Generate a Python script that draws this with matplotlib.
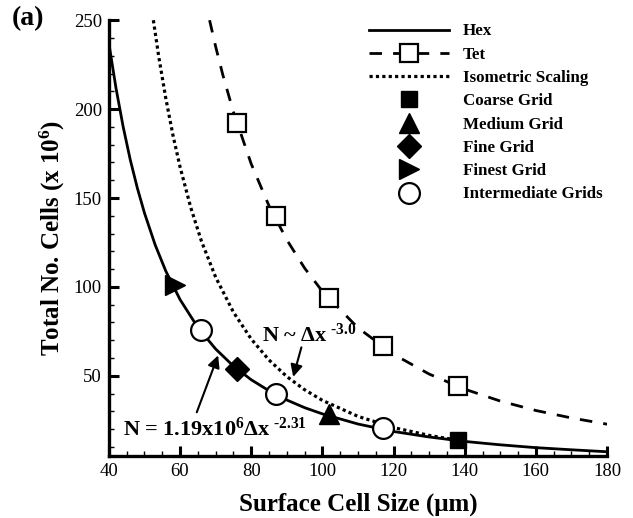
import matplotlib
matplotlib.use("Agg")
import matplotlib.pyplot as plt
from matplotlib.ticker import MultipleLocator
from matplotlib.lines import Line2D

plt.rcParams['font.family'] = ['Liberation Serif', 'DejaVu Serif']
plt.rcParams['mathtext.fontset'] = 'custom'
plt.rcParams['mathtext.rm'] = 'Liberation Serif:bold'
plt.rcParams['mathtext.it'] = 'Liberation Serif:bold'
plt.rcParams['mathtext.bf'] = 'Liberation Serif:bold'

# Hex fitted curve
hex_x = [40, 42, 44, 46, 48, 50, 53, 56, 60, 65, 70, 75, 80, 85, 90, 95, 100,
         110, 120, 130, 140, 150, 160, 170, 180]
hex_y = [237.0, 211.8, 190.2, 171.6, 155.6, 141.6, 123.7, 108.9, 92.9, 77.2,
         65.1, 55.5, 47.8, 41.6, 36.4, 32.1, 28.6, 22.9, 18.7, 15.6, 13.1,
         11.2, 9.6, 8.4, 7.3]

# Tet curve and markers
tet_x = [68.3, 70, 72, 75, 80, 85, 90, 95, 100, 110, 120, 130, 140, 150, 160, 170, 180]
tet_y = [250.0, 235.2, 219.4, 198.4, 169.2, 145.6, 126.5, 110.6, 97.5, 77.0,
         62.1, 51.0, 42.5, 35.8, 30.5, 26.3, 22.8]
tet_mx = [76, 87, 102, 117, 138]
tet_my = [192, 140, 94, 67, 44]

# Isometric scaling curve
iso_x = [52.5, 54, 56, 58, 60, 63, 66, 70, 75, 80, 85, 90, 95, 100, 110, 120, 130, 138]
iso_y = [250.0, 229.7, 206.0, 185.4, 167.5, 144.7, 125.8, 105.5, 85.8, 70.7,
         58.9, 49.6, 42.2, 36.2, 27.2, 20.9, 16.5, 13.8]

# Hex grid points
coarse = (138, 14)
medium = (102, 28.5)
fine = (76, 54)
finest = (58.5, 101)
inter_x = [66, 87, 117]
inter_y = [76, 40, 20.5]

labels = ['Hex', 'Tet', 'Isometric Scaling', 'Coarse Grid', 'Medium Grid',
          'Fine Grid', 'Finest Grid', 'Intermediate Grids']

fig = plt.figure(figsize=(6.33, 5.18), dpi=100)
ax = fig.add_axes([0.172, 0.12, 0.787, 0.841])

ax.plot(hex_x, hex_y, color='black', lw=2.0, zorder=2)
ax.plot(tet_x, tet_y, color='black', lw=2.0, dashes=(4.5, 4.0), zorder=2)
ax.plot(iso_x, iso_y, color='black', lw=2.3, dashes=(1, 1), zorder=2)
ax.plot(tet_mx, tet_my, ls='none', marker='s', ms=13, mfc='white', mec='black', mew=1.6, zorder=3)
ax.plot(*coarse, ls='none', marker='s', ms=12, color='black', zorder=3)
ax.plot(*medium, ls='none', marker='^', ms=15, color='black', zorder=3)
ax.plot(*fine, ls='none', marker='D', ms=12, color='black', zorder=3)
ax.plot(*finest, ls='none', marker='>', ms=15, color='black', zorder=3)
ax.plot(inter_x, inter_y, ls='none', marker='o', ms=15, mfc='white', mec='black', mew=1.6, zorder=3)

handles = [
    Line2D([], [], color='black', lw=2.0),
    Line2D([], [], color='black', lw=2.0, dashes=(4.5, 4.0), marker='s', ms=13,
           mfc='white', mec='black', mew=1.6),
    Line2D([], [], color='black', lw=2.3, dashes=(1, 1)),
    Line2D([], [], ls='none', marker='s', ms=12, color='black'),
    Line2D([], [], ls='none', marker='^', ms=15, color='black'),
    Line2D([], [], ls='none', marker='D', ms=12, color='black'),
    Line2D([], [], ls='none', marker='>', ms=15, color='black'),
    Line2D([], [], ls='none', marker='o', ms=15, mfc='white', mec='black', mew=1.6),
]
leg = ax.legend(handles, labels, loc='upper left', bbox_to_anchor=(0.505, 1.012),
                frameon=False, numpoints=1, handlelength=4.75, handletextpad=0.8,
                labelspacing=0.43, borderpad=0.0,
                prop={'family': 'Liberation Serif', 'weight': 'bold', 'size': 12.2})

ax.set_xlim(40, 180)
ax.set_ylim(5, 250)
ax.xaxis.set_major_locator(MultipleLocator(20))
ax.xaxis.set_minor_locator(MultipleLocator(5))
ax.yaxis.set_major_locator(MultipleLocator(50))
ax.yaxis.set_minor_locator(MultipleLocator(10))
ax.set_yticks([50, 100, 150, 200, 250])
ax.spines['top'].set_visible(False)
ax.spines['right'].set_visible(False)
for s in ('left', 'bottom'):
    ax.spines[s].set_linewidth(2.4)
ax.tick_params(which='major', direction='in', length=7, width=2.2, labelsize=13.5, pad=5)
ax.tick_params(which='minor', direction='in', length=3.5, width=1.0)

ax.set_xlabel('Surface Cell Size (\u03bcm)', fontsize=18, fontweight='bold', labelpad=9)
ax.set_ylabel('Total No. Cells (x 10$^{6}$)', fontsize=18, fontweight='bold', labelpad=5)

fig.text(0.018, 0.964, '(a)', fontsize=20, fontweight='bold', va='center', ha='left')

# Annotations
ax.text(83.0, 73.0, 'N ~ \u0394x$^{\\ \\text{-3.0}}$', fontsize=16, fontweight='bold',
        va='center', ha='left')
ax.annotate('', xy=(91.8, 49.4), xytext=(94.1, 66.0),
            arrowprops=dict(arrowstyle='-|>', color='black', lw=1.5,
                            mutation_scale=18, shrinkA=0, shrinkB=0))

ax.text(43.9, 20.0, 'N = 1.19x10$^{6}$\u0394x$^{\\ \\text{-2.31}}$', fontsize=16,
        fontweight='bold', va='center', ha='left')
ax.annotate('', xy=(70.7, 61.5), xytext=(64.7, 29.5),
            arrowprops=dict(arrowstyle='-|>', color='black', lw=1.5,
                            mutation_scale=18, shrinkA=0, shrinkB=0))

fig.savefig('out.png', dpi=100)
